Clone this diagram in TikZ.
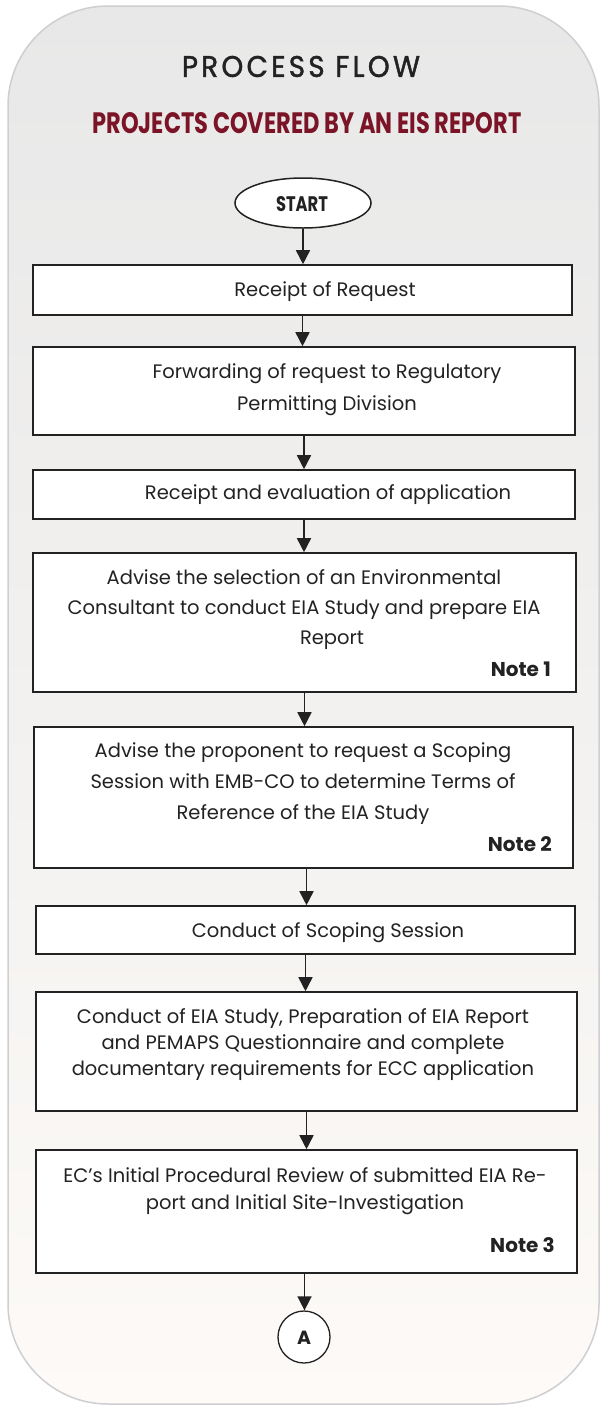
\documentclass[tikz,border=0pt]{standalone}
\usepackage{fontspec}
\usepackage{graphicx}
\setmainfont{Poppins}
\newfontfamily\headfont{Poppins}[LetterSpace=12,FakeBold=1.5]
\usetikzlibrary{shapes.geometric,arrows.meta}
\definecolor{ink}{HTML}{222222}
\definecolor{maroon}{HTML}{7A1426}
\definecolor{panelTop}{HTML}{E8E8E8}
\definecolor{panelBot}{HTML}{FDFAF7}
\definecolor{panelEdge}{HTML}{CFCFD3}

\begin{document}
\begin{tikzpicture}[x=1pt,y=-1pt,
  box/.style={draw=ink, line width=1.6pt, fill=white, rectangle, inner sep=0pt},
  txt/.style={font=\fontsize{19.5}{30}\selectfont, align=center, text=ink, inner sep=0pt},
  lines/.style={font=\fontsize{19.5}{#1}\selectfont},
  note/.style={font=\fontsize{20}{22}\selectfont\bfseries, text=ink, anchor=east, inner sep=0pt},
  arr/.style={draw=ink, line width=1.6pt, -{Triangle[length=14pt,width=14pt]}},
]
% page and rounded panel
\useasboundingbox (0,0) rectangle (601,1406);
\fill[white] (0,0) rectangle (601,1406);
\shade[top color=panelTop, bottom color=panelBot, rounded corners=100pt] (8,6) rectangle (599,1404);
\draw[panelEdge, line width=1.5pt, rounded corners=100pt] (8,6) rectangle (599,1404);

% headings
\node[inner sep=0pt, text=ink] (title) at (301,66.5) {\resizebox{238pt}{21pt}{\headfont PROCESS FLOW}};
\node[inner sep=0pt, text=maroon] (subtitle) at (307,123) {\resizebox{429pt}{21pt}{\bfseries PROJECTS COVERED BY AN EIS REPORT}};

% start terminal
\node[ellipse, draw=ink, line width=1.5pt, fill=white, minimum width=136pt, minimum height=50pt, inner sep=0pt] (start) at (303,203) {};
\node[inner sep=0pt, text=ink] (starttxt) at (302,204) {\resizebox{52pt}{15pt}{\bfseries START}};

% process boxes
\node[box, minimum width=539pt, minimum height=50pt]  (b1) at (302.5,290) {};
\node[box, minimum width=542pt, minimum height=88pt]  (b2) at (304,391) {};
\node[box, minimum width=542pt, minimum height=49pt]  (b3) at (304,494.5) {};
\node[box, minimum width=543pt, minimum height=139pt] (b4) at (304.5,622.5) {};
\node[box, minimum width=539pt, minimum height=141pt] (b5) at (303.5,797.5) {};
\node[box, minimum width=539pt, minimum height=48pt]  (b6) at (305.5,930) {};
\node[box, minimum width=541pt, minimum height=119pt] (b7) at (306.5,1051.5) {};
\node[box, minimum width=541pt, minimum height=123pt] (b8) at (306.5,1211.5) {};

% connector end
\node[circle, draw=ink, line width=1.3pt, fill=white, minimum size=52pt, inner sep=0pt] (endA) at (304,1337) {};
\node[inner sep=0pt, text=ink] (endAtxt) at (304,1338) {\fontsize{19}{20}\selectfont\bfseries A};

% box texts
\node[txt] (t1) at (325,292) {Receipt of Request};
\node[txt, lines=32] (t2) at (327,390) {Forwarding of request to Regulatory\\Permitting Division};
\node[txt] (t3) at (328,495) {Receipt and evaluation of application};
\node[txt, lines=30] (t4) at (304,610) {Advise the selection of an Environmental\\Consultant to conduct EIA Study and prepare EIA\\\hspace*{56pt}Report};
\node[note] (n1) at (551,669) {Note 1};
\node[txt, lines=31] (t5) at (303,784) {Advise the proponent to request a Scoping\\Session with EMB-CO to determine Terms of\\Reference of the EIA Study};
\node[note] (n2) at (552,844) {Note 2};
\node[txt] (t6) at (328,933) {Conduct of Scoping Session};
\node[txt, lines=26] (t7) at (303,1045) {Conduct of EIA Study, Preparation of EIA Report\\and PEMAPS Questionnaire and complete\\documentary requirements for ECC application};
\node[txt, lines=27] (t8) at (305,1191) {EC’s Initial Procedural Review of submitted EIA Re-\\port and Initial Site-Investigation};
\node[note] (n3) at (555,1245) {Note 3};

% flow connectors
\draw[arr] (start.south) -- (start.south |- b1.north);
\draw[arr] (b1.south) -- (b1.south |- b2.north);
\draw[arr] (b2.south) -- (b2.south |- b3.north);
\draw[arr] (b3.south) -- (b3.south |- b4.north);
\draw[arr] (b4.south) -- (b4.south |- b5.north);
\draw[arr] (b5.south) ++(3,0) coordinate (c56) -- (c56 |- b6.north);
\draw[arr] (b6.south) -- (b6.south |- b7.north);
\draw[arr] (b7.south) -- (b7.south |- b8.north);
\draw[arr] (b8.south) ++(-2,0) coordinate (c8A) -- (c8A |- endA.north);
\end{tikzpicture}
\end{document}
